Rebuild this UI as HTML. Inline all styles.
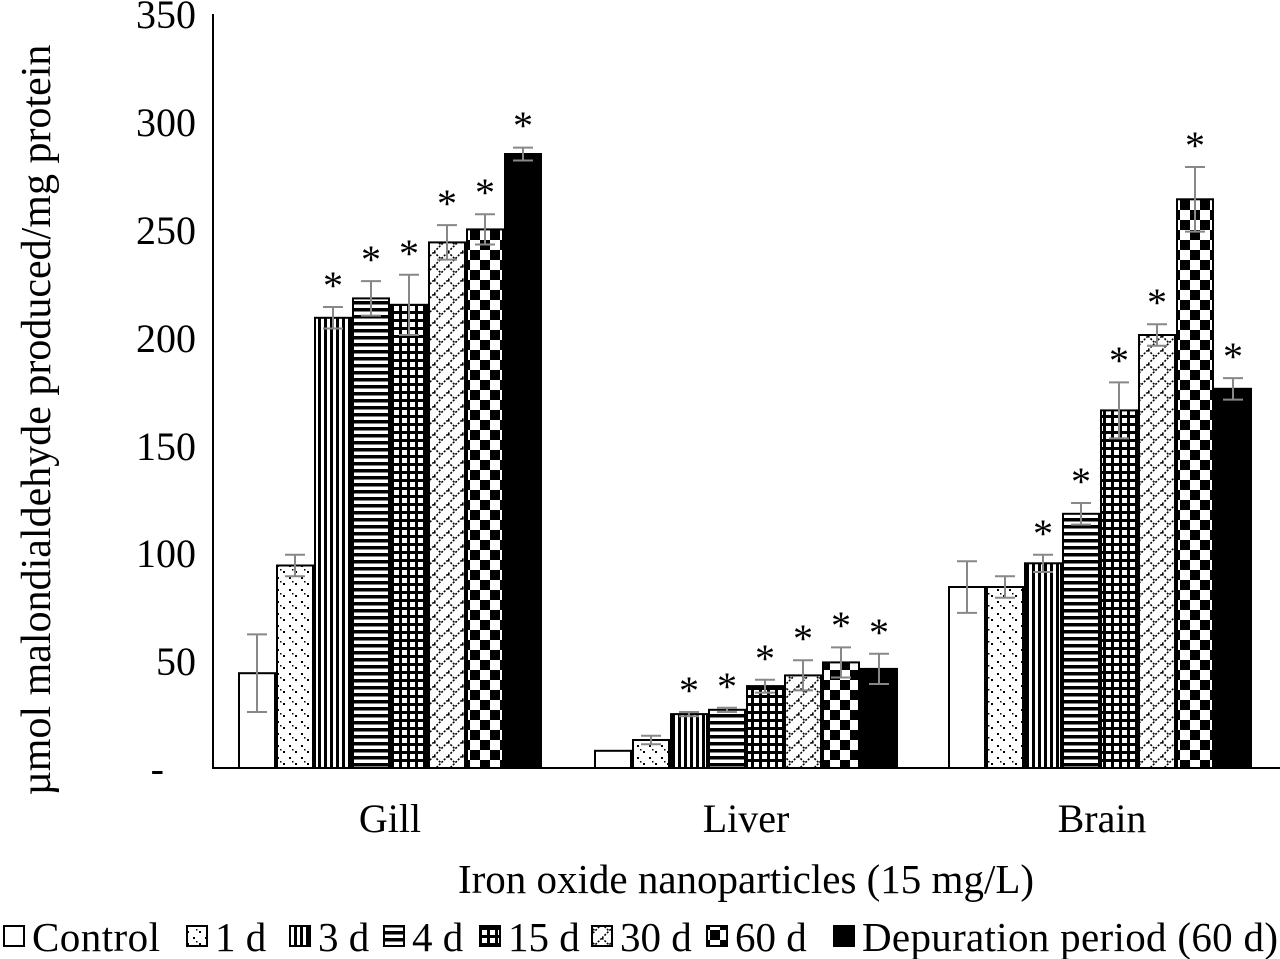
<!DOCTYPE html>
<html><head><meta charset="utf-8"><style>body{margin:0;background:#fff}svg{display:block}</style></head><body>
<svg width="1280" height="959" xmlns="http://www.w3.org/2000/svg" font-family="Liberation Serif, serif">
<defs>
<pattern id="p1" width="12" height="12" patternUnits="userSpaceOnUse"><rect width="12" height="12" fill="#fff"/><rect x="1" y="1" width="2" height="2" fill="#000"/><rect x="7" y="7" width="2" height="2" fill="#000"/><rect x="4" y="5" width="1.5" height="1.5" fill="#000"/></pattern>
<pattern id="p3" width="6" height="6" patternUnits="userSpaceOnUse"><rect width="6" height="6" fill="#fff"/><rect width="3" height="6" fill="#000"/></pattern>
<pattern id="p4" width="7" height="7" patternUnits="userSpaceOnUse"><rect width="7" height="7" fill="#fff"/><rect width="7" height="3.5" fill="#000"/></pattern>
<pattern id="p15" width="8" height="8" patternUnits="userSpaceOnUse"><rect width="8" height="8" fill="#000"/><rect x="2" y="2" width="5" height="5" fill="#fff"/></pattern>
<pattern id="p30" width="14" height="14" patternUnits="userSpaceOnUse"><rect width="14" height="14" fill="#fff"/><path d="M0 14L14 0M0 0L7 7" stroke="#000" stroke-width="1.6" stroke-dasharray="2 1.5"/></pattern>
<pattern id="p60" width="20" height="20" patternUnits="userSpaceOnUse"><rect width="20" height="20" fill="#fff"/><rect width="10" height="10" fill="#000"/><rect x="10" y="10" width="10" height="10" fill="#000"/></pattern>
</defs>
<g font-size="40" text-anchor="end">
<text x="196" y="28">350</text><text x="196" y="136">300</text><text x="196" y="244">250</text><text x="196" y="352">200</text><text x="196" y="460">150</text><text x="196" y="567">100</text><text x="196" y="675">50</text><text x="164" y="782">-</text>
</g>
<text transform="translate(50,420) rotate(-90)" font-size="42" text-anchor="middle">µmol malondialdehyde produced/mg protein</text>
<line x1="213" y1="14" x2="213" y2="769" stroke="#000" stroke-width="2"/>
<line x1="212" y1="768" x2="1280" y2="768" stroke="#000" stroke-width="2"/>
<g stroke="#000" stroke-width="2">
<rect x="239" y="673.2" width="36" height="94.8" fill="#fff"/>
<rect x="277" y="565.5" width="36" height="202.5" fill="url(#p1)"/>
<rect x="315" y="317.8" width="36" height="450.2" fill="url(#p3)"/>
<rect x="353" y="298.4" width="36" height="469.6" fill="url(#p4)"/>
<rect x="391" y="304.8" width="36" height="463.2" fill="url(#p15)"/>
<rect x="429" y="242.4" width="36" height="525.6" fill="url(#p30)"/>
<rect x="467" y="229.4" width="36" height="538.6" fill="url(#p60)"/>
<rect x="505" y="154" width="36" height="614" fill="#000"/>
<rect x="595" y="750.8" width="36" height="17.2" fill="#fff"/>
<rect x="633" y="740" width="36" height="28" fill="url(#p1)"/>
<rect x="671" y="714.1" width="36" height="53.9" fill="url(#p3)"/>
<rect x="709" y="709.8" width="36" height="58.2" fill="url(#p4)"/>
<rect x="747" y="686.1" width="36" height="81.9" fill="url(#p15)"/>
<rect x="785" y="675.4" width="36" height="92.6" fill="url(#p30)"/>
<rect x="823" y="662.4" width="36" height="105.6" fill="url(#p60)"/>
<rect x="861" y="668.9" width="36" height="99.1" fill="#000"/>
<rect x="949" y="587" width="36" height="181" fill="#fff"/>
<rect x="987" y="587" width="36" height="181" fill="url(#p1)"/>
<rect x="1025" y="563.3" width="36" height="204.7" fill="url(#p3)"/>
<rect x="1063" y="513.8" width="36" height="254.2" fill="url(#p4)"/>
<rect x="1101" y="410.4" width="36" height="357.6" fill="url(#p15)"/>
<rect x="1139" y="335" width="36" height="433" fill="url(#p30)"/>
<rect x="1177" y="199.3" width="36" height="568.7" fill="url(#p60)"/>
<rect x="1215" y="388.8" width="36" height="379.2" fill="#000"/>
</g>
<path fill="none" stroke="#888" stroke-width="2" d="
M257 634.4V712M247 634.4H267M247 712H267
M295 554.7V576.3M285 554.7H305M285 576.3H305
M333 307V328.5M323 307H343M323 328.5H343
M371 281.1V315.6M361 281.1H381M361 315.6H381
M409 274.7V335M399 274.7H419M399 335H419
M447 225.1V259.6M437 225.1H457M437 259.6H457
M485 214.3V244.5M475 214.3H495M475 244.5H495
M523 147.6V160.5M513 147.6H533M513 160.5H533
M651 735.7V744.3M641 735.7H661M641 744.3H661
M689 712V716.3M679 712H699M679 716.3H699
M727 707.7V712M717 707.7H737M717 712H737
M765 679.7V692.6M755 679.7H775M755 692.6H775
M803 660.3V690.4M793 660.3H813M793 690.4H813
M841 647.4V677.5M831 647.4H851M831 677.5H851
M879 653.8V684M869 653.8H889M869 684H889
M967 561.2V612.9M957 561.2H977M957 612.9H977
M1005 576.3V597.8M995 576.3H1015M995 597.8H1015
M1043 554.7V572M1033 554.7H1053M1033 572H1053
M1081 503V524.6M1071 503H1091M1071 524.6H1091
M1119 382.4V438.4M1109 382.4H1129M1109 438.4H1129
M1157 324.2V345.8M1147 324.2H1167M1147 345.8H1167
M1195 167V231.6M1185 167H1205M1185 231.6H1205
M1233 378.1V399.6M1223 378.1H1243M1223 399.6H1243"/>
<g font-size="40" text-anchor="middle">
<text x="333" y="299">*</text><text x="371" y="273">*</text><text x="409" y="267">*</text><text x="447" y="217">*</text><text x="485" y="206">*</text><text x="523" y="139">*</text>
<text x="689" y="704">*</text><text x="727" y="700">*</text><text x="765" y="672">*</text><text x="803" y="652">*</text><text x="841" y="639">*</text><text x="879" y="646">*</text>
<text x="1043" y="547">*</text><text x="1081" y="495">*</text><text x="1119" y="374">*</text><text x="1157" y="316">*</text><text x="1195" y="159">*</text><text x="1233" y="370">*</text>
</g>
<g font-size="40" text-anchor="middle">
<text x="390" y="832">Gill</text><text x="746" y="832">Liver</text><text x="1102" y="832">Brain</text>
</g>
<text x="746" y="893" font-size="41" text-anchor="middle">Iron oxide nanoparticles (15 mg/L)</text>
<g font-size="41">
<text x="32" y="951" textLength="128">Control</text><text x="215" y="951">1 d</text><text x="318" y="951">3 d</text><text x="412" y="951">4 d</text><text x="508" y="951">15 d</text><text x="620" y="951">30 d</text><text x="735" y="951">60 d</text><text x="862" y="951" textLength="416">Depuration period (60 d)</text>
</g>
<g stroke="#000" stroke-width="2">
<rect x="4" y="926" width="20" height="20" fill="#fff"/><rect x="187" y="926" width="20" height="20" fill="url(#p1)"/><rect x="290" y="926" width="20" height="20" fill="url(#p3)"/><rect x="384" y="926" width="20" height="20" fill="url(#p4)"/><rect x="480" y="926" width="20" height="20" fill="url(#p15)"/><rect x="592" y="926" width="20" height="20" fill="url(#p30)"/><rect x="707" y="926" width="20" height="20" fill="url(#p60)"/><rect x="834" y="926" width="20" height="20" fill="#000"/>
</g>
</svg>
</body></html>
